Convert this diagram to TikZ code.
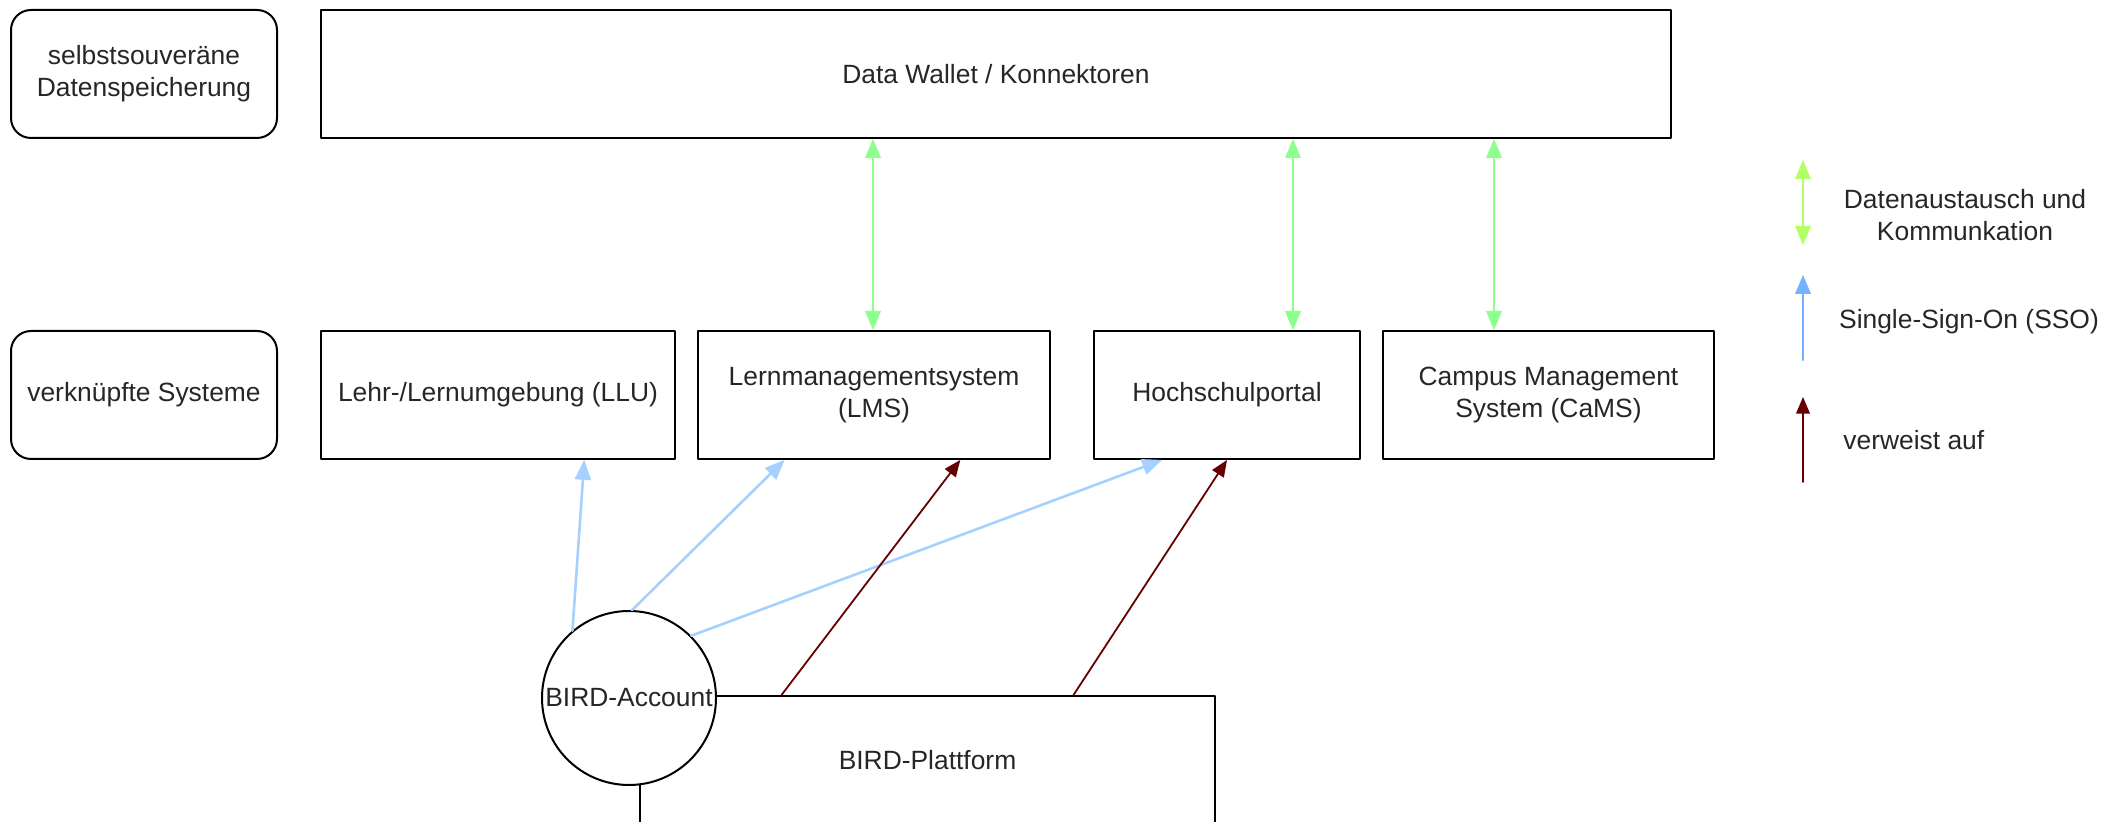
\documentclass[tikz,border=0pt]{standalone}
\usepackage{fontspec}
\setmainfont{Liberation Sans}
\usepackage{tikz}
\usetikzlibrary{arrows}
\definecolor{zzffzz}{rgb}{0.55,1,0.55}
\definecolor{bbffww}{rgb}{0.7,1,0.4}
\definecolor{ccddff}{rgb}{0.65,0.82,1}
\definecolor{wwbbff}{rgb}{0.45,0.7,1}
\definecolor{wwqqqq}{rgb}{0.4,0,0}

\begin{document}
\begin{tikzpicture}[line cap=round,line join=round,>=triangle 45,x=0.5pt,y=-0.5pt,
  every node/.style={font=\fontsize{13.2}{16}\selectfont,align=center,text=black!85},
  box/.style={draw,line width=1pt,minimum height=64pt,inner sep=0pt},
  layer/.style={box,rounded corners=10pt,minimum width=133pt},
  sso/.style={->,color=ccddff,line width=1.3pt},
  ref/.style={->,color=wwqqqq,line width=0.9pt},
  data/.style={<->,color=zzffzz,line width=1.2pt}]
      \useasboundingbox (0,0) rectangle (2116,822);
      \clip (0,0) rectangle (2116,822);
      % layers
      \node[layer] (speicher) at (144,74) {selbstsouveräne\\Datenspeicherung};
      \node[layer] (systeme) at (144,395) {verknüpfte Systeme};
      \node[box,minimum width=675pt] (wallet) at (996,74) {Data Wallet / Konnektoren};
      \node[box,minimum width=177pt] (llu) at (498,395) {Lehr-/Lernumgebung (LLU)};
      \node[box,minimum width=176pt] (lms) at (874,395) {Lernmanagementsystem\\(LMS)};
      \node[box,minimum width=133pt] (portal) at (1227,395) {Hochschulportal};
      \node[box,minimum width=165.5pt] (cams) at (1548.5,395) {Campus Management\\System (CaMS)};
      \node[box,minimum width=287.5pt] (plattform) at (927.5,760) {BIRD-Plattform};
      \node[draw,circle,fill=white,line width=1pt,minimum size=87pt,inner sep=0pt] (account) at (629,698) {BIRD-Account};
      % Datenaustausch
      \coordinate (g1) at (873,0);
      \coordinate (g2) at (1293,0);
      \coordinate (g3) at (1494,0);
      \draw [data] (wallet.south -| g1) -- (lms.north -| g1);
      \draw [data] (wallet.south -| g2) -- (portal.north -| g2);
      \draw [data] (wallet.south -| g3) -- (cams.north -| g3);
      % SSO
      \draw [sso] (account.130) -- (llu.-37);
      \draw [sso] (account.88) -- (lms.-144);
      \draw [sso] (account.45) -- (portal.-135);
      % verweist auf
      \draw [ref] (plattform.156) -- (lms.-37);
      \draw [ref] (plattform.24) -- (portal.south);
      % legend
      \coordinate (l1a) at (1803,160);
      \coordinate (l1b) at (1803,245);
      \coordinate (l2a) at (1803,360);
      \coordinate (l2b) at (1803,275);
      \coordinate (l3a) at (1803,482);
      \coordinate (l3b) at (1803,397);
      \draw [<->,color=bbffww,line width=1.2pt] (l1a) -- (l1b);
      \draw [->,color=wwbbff,line width=1.2pt] (l2a) -- (l2b);
      \draw [ref] (l3a) -- (l3b);
      \node (legdata) at (1965,215) {Datenaustausch und\\Kommunkation};
      \node (legsso) at (1969,322) {Single-Sign-On (SSO)};
      \node[anchor=west,inner sep=0pt] (legref) at (1843,440) {verweist auf};
\end{tikzpicture}
\end{document}
